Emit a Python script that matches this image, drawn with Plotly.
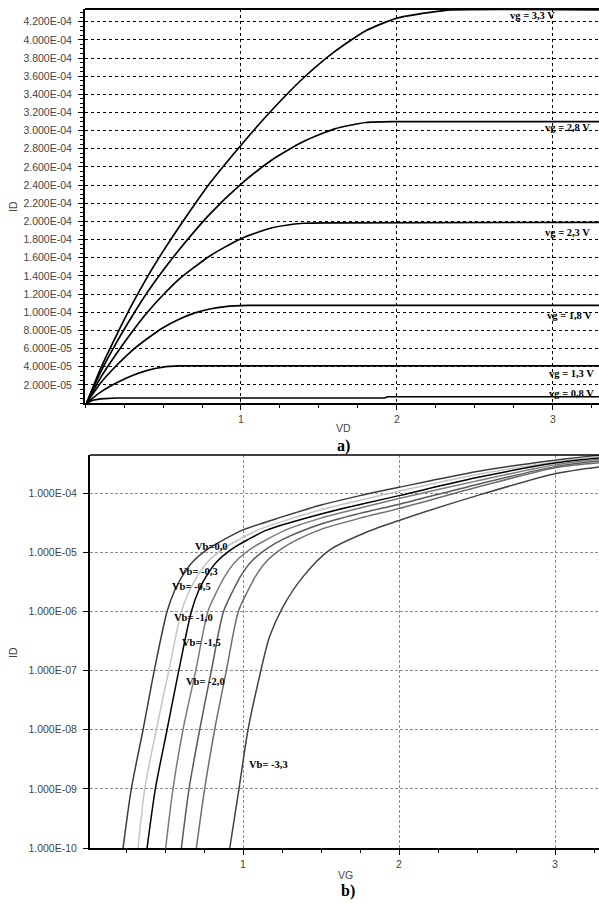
import plotly.graph_objects as go

# ---------------- panel a) : ID vs VD ----------------
vd_33 = [0.01, 0.1, 0.2, 0.3, 0.4, 0.5, 0.6, 0.8, 1.0, 1.2, 1.4, 1.6, 1.8, 2.0, 2.2, 2.35, 3.4]
id_33 = [0, 3.8e-5, 7.4e-5, 1.08e-4, 1.39e-4, 1.67e-4, 1.93e-4, 2.42e-4, 2.84e-4, 3.23e-4,
         3.58e-4, 3.87e-4, 4.10e-4, 4.24e-4, 4.30e-4, 4.33e-4, 4.33e-4]
vd_28 = [0.01, 0.1, 0.2, 0.3, 0.4, 0.5, 0.6, 0.8, 1.0, 1.2, 1.4, 1.6, 1.8, 2.0, 3.4]
id_28 = [0, 3.4e-5, 6.6e-5, 9.5e-5, 1.22e-4, 1.46e-4, 1.68e-4, 2.08e-4, 2.41e-4, 2.68e-4,
         2.88e-4, 3.02e-4, 3.09e-4, 3.10e-4, 3.10e-4]
vd_23 = [0.01, 0.1, 0.2, 0.3, 0.4, 0.5, 0.6, 0.8, 1.0, 1.2, 1.4, 1.6, 3.4]
id_23 = [0, 2.8e-5, 5.4e-5, 7.8e-5, 1.0e-4, 1.19e-4, 1.36e-4, 1.62e-4, 1.81e-4, 1.93e-4,
         1.98e-4, 1.985e-4, 1.99e-4]
vd_18 = [0.01, 0.1, 0.2, 0.3, 0.4, 0.5, 0.6, 0.7, 0.8, 0.9, 1.05, 3.4]
id_18 = [0, 2.2e-5, 4.1e-5, 5.75e-5, 7.1e-5, 8.3e-5, 9.2e-5, 9.9e-5, 1.035e-4, 1.062e-4,
         1.075e-4, 1.075e-4]
vd_13 = [0.01, 0.1, 0.2, 0.3, 0.4, 0.5, 0.6, 0.7, 3.4]
id_13 = [0, 1.2e-5, 2.2e-5, 3.0e-5, 3.6e-5, 3.95e-5, 4.08e-5, 4.1e-5, 4.1e-5]
vd_08 = [0.01, 0.05, 0.1, 0.15, 0.2, 1.92, 1.94, 3.4]
id_08 = [0, 3.0e-6, 4.6e-6, 5.3e-6, 5.5e-6, 5.5e-6, 6.9e-6, 6.9e-6]

vg_labels_a = ["vg = 3,3 V", "vg = 2,8 V", "vg = 2,3 V", "vg = 1,8 V", "vg = 1,3 V", "vg = 0,8 V"]

ya_tickvals = [2e-5 * k for k in range(1, 22)]
ya_ticktext = ["2.000E-05", "4.000E-05", "6.000E-05", "8.000E-05", "1.000E-04", "1.200E-04",
               "1.400E-04", "1.600E-04", "1.800E-04", "2.000E-04", "2.200E-04", "2.400E-04",
               "2.600E-04", "2.800E-04", "3.000E-04", "3.200E-04", "3.400E-04", "3.600E-04",
               "3.800E-04", "4.000E-04", "4.200E-04"]
x_tickvals = [1, 2, 3]
x_ticktext = ["1", "2", "3"]

# ---------------- panel b) : ID vs VG (log) ----------------
vg_b00 = [0.231, 0.284, 0.359, 0.431, 0.513, 0.561, 0.611, 0.681, 0.781, 0.881, 1.0, 1.25, 1.5, 1.75, 2.0, 2.5, 3.0, 3.3]
id_b00 = [1e-10, 1e-9, 1e-8, 1e-7, 1e-6, 2.24e-6, 3.98e-6, 7.08e-6, 1.17e-5, 1.66e-5, 2.40e-5,
          3.98e-5, 6.31e-5, 9.12e-5, 1.26e-4, 2.34e-4, 3.63e-4, 4.40e-4]
vg_b03 = [0.327, 0.370, 0.444, 0.524, 0.605, 0.657, 0.707, 0.777, 0.877, 0.977, 1.097, 1.25, 1.5, 1.75, 2.0, 2.5, 3.0, 3.3]
id_b03 = [1e-10, 1e-9, 1e-8, 1e-7, 1e-6, 2.24e-6, 3.98e-6, 7.08e-6, 1.17e-5, 1.66e-5, 2.40e-5,
          3.31e-5, 5.25e-5, 7.59e-5, 1.08e-4, 2.07e-4, 3.39e-4, 4.22e-4]
vg_b05 = [0.385, 0.438, 0.513, 0.588, 0.669, 0.715, 0.765, 0.835, 0.935, 1.035, 1.155, 1.5, 1.75, 2.0, 2.5, 3.0, 3.3]
id_b05 = [1e-10, 1e-9, 1e-8, 1e-7, 1e-6, 2.24e-6, 3.98e-6, 7.08e-6, 1.17e-5, 1.66e-5, 2.40e-5,
          4.47e-5, 6.46e-5, 9.12e-5, 1.84e-4, 3.24e-4, 3.98e-4]
vg_b10 = [0.504, 0.551, 0.615, 0.697, 0.775, 0.834, 0.884, 0.954, 1.054, 1.154, 1.274, 1.5, 1.75, 2.0, 2.5, 3.0, 3.3]
id_b10 = [1e-10, 1e-9, 1e-8, 1e-7, 1e-6, 2.24e-6, 3.98e-6, 7.08e-6, 1.17e-5, 1.66e-5, 2.40e-5,
          3.80e-5, 5.62e-5, 8.13e-5, 1.62e-4, 3.02e-4, 3.80e-4]
vg_b15 = [0.605, 0.654, 0.722, 0.797, 0.875, 0.935, 0.985, 1.055, 1.155, 1.255, 1.5, 1.75, 2.0, 2.5, 3.0, 3.3]
id_b15 = [1e-10, 1e-9, 1e-8, 1e-7, 1e-6, 2.24e-6, 3.98e-6, 7.08e-6, 1.17e-5, 1.66e-5, 3.02e-5,
          4.57e-5, 6.53e-5, 1.41e-4, 2.82e-4, 3.55e-4]
vg_b20 = [0.701, 0.754, 0.818, 0.893, 0.970, 1.031, 1.081, 1.151, 1.251, 1.351, 1.5, 1.75, 2.0, 2.5, 3.0, 3.3]
id_b20 = [1e-10, 1e-9, 1e-8, 1e-7, 1e-6, 2.24e-6, 3.98e-6, 7.08e-6, 1.17e-5, 1.66e-5, 2.45e-5,
          3.80e-5, 5.50e-5, 1.26e-4, 2.69e-4, 3.31e-4]
vg_b33 = [0.915, 0.974, 1.032, 1.096, 1.171, 1.256, 1.385, 1.556, 1.79, 2.0, 2.5, 3.0, 3.3]
id_b33 = [1e-10, 1e-9, 1e-8, 6.17e-8, 3.80e-7, 1.20e-6, 3.89e-6, 1.10e-5, 2.19e-5, 3.47e-5,
          9.12e-5, 2.14e-4, 2.82e-4]

vb_labels_b = ["Vb=0,0", "Vb= -0,3", "Vb= -0,5", "Vb= -1,0", "Vb= -1,5", "Vb= -2,0", "Vb= -3,3"]
vb_colors = ["#3c3c3c", "#c4c4c4", "#000000", "#7a7a7a", "#5a5a5a", "#6e6e6e", "#444444"]

yb_tickvals = [1e-10, 1e-9, 1e-8, 1e-7, 1e-6, 1e-5, 1e-4]
yb_ticktext = ["1.000E-10", "1.000E-09", "1.000E-08", "1.000E-07", "1.000E-06", "1.000E-05", "1.000E-04"]

W, H = 599, 903
TICKFONT = dict(family="Liberation Sans, Arial, sans-serif", size=10.5, color="#444444")
SERIF = "Liberation Serif, Times New Roman, serif"

fig = go.Figure()

curves_a = [(vd_33, id_33), (vd_28, id_28), (vd_23, id_23), (vd_18, id_18), (vd_13, id_13), (vd_08, id_08)]
for i, ((xs, ys), name) in enumerate(zip(curves_a, vg_labels_a)):
    shp = dict(shape="spline", smoothing=0.6) if i < 5 else dict(shape="linear")
    fig.add_trace(go.Scatter(x=xs, y=ys, mode="lines", name=name, xaxis="x", yaxis="y",
                             line=dict(color="#000000", width=1.7, **shp),
                             showlegend=False, hoverinfo="skip"))

curves_b = [(vg_b00, id_b00), (vg_b03, id_b03), (vg_b05, id_b05), (vg_b10, id_b10),
            (vg_b15, id_b15), (vg_b20, id_b20), (vg_b33, id_b33)]
for (xs, ys), name, col in zip(curves_b, vb_labels_b, vb_colors):
    fig.add_trace(go.Scatter(x=xs, y=ys, mode="lines", name=name, xaxis="x2", yaxis="y2",
                             line=dict(color=col, width=1.5, shape="spline", smoothing=0.8),
                             showlegend=False, hoverinfo="skip"))

common_x = dict(tickmode="array", tickvals=x_tickvals, ticktext=x_ticktext, ticks="outside",
                ticklen=5, tickcolor="#000", showline=True, linecolor="#000", linewidth=2,
                zeroline=False, tickfont=TICKFONT, showgrid=True, automargin=False,
                minor=dict(tickmode="linear", tick0=0, dtick=0.25, ticks="outside", ticklen=3,
                           tickcolor="#000", showgrid=False))

fig.update_layout(
    width=W, height=H, margin=dict(l=0, r=0, t=0, b=0),
    paper_bgcolor="white", plot_bgcolor="white",
    xaxis=dict(domain=[85 / W, 1], range=[0, 3.295], anchor="y",
               gridcolor="#000", griddash="3px,3px", gridwidth=1, **common_x),
    yaxis=dict(domain=[1 - 403 / H, 1 - 9 / H], range=[0, 4.34e-4], anchor="x",
               tickmode="array", tickvals=ya_tickvals, ticktext=ya_ticktext,
               ticks="outside", ticklen=5, tickcolor="#000", ticklabelstandoff=4,
               showline=True, linecolor="#000", linewidth=2, zeroline=False, automargin=False,
               showgrid=True, gridcolor="#000", griddash="3px,3px", gridwidth=1,
               tickfont=TICKFONT,
               minor=dict(tickmode="linear", tick0=0, dtick=5e-6, ticks="outside",
                          ticklen=3, tickcolor="#000", showgrid=False)),
    xaxis2=dict(domain=[90 / W, 1], range=[0.019, 3.282], anchor="y2",
                gridcolor="#8c8c8c", griddash="3px,2px", gridwidth=1, **common_x),
    yaxis2=dict(domain=[1 - 848 / H, 1 - 455 / H], type="log", range=[-10, -3.353], anchor="x2",
                tickmode="array", tickvals=yb_tickvals, ticktext=yb_ticktext,
                ticks="outside", ticklen=5, tickcolor="#000", ticklabelstandoff=4,
                showline=True, linecolor="#000", linewidth=2, zeroline=False, automargin=False,
                showgrid=True, gridcolor="#8c8c8c", griddash="3px,2px", gridwidth=1,
                tickfont=TICKFONT),
)

# top frame lines
fig.add_shape(type="line", xref="paper", yref="paper", x0=85 / W, x1=1, y0=1 - 9 / H, y1=1 - 9 / H,
              line=dict(color="#000", width=2))
fig.add_shape(type="line", xref="paper", yref="paper", x0=90 / W, x1=1, y0=1 - 455 / H, y1=1 - 455 / H,
              line=dict(color="#000", width=1.5))

# curve labels panel a)
lab_a_pos = [(2.71, 4.27e-4), (2.936, 3.03e-4), (2.936, 1.88e-4), (2.95, 9.69e-5), (2.96, 3.30e-5), (2.96, 1.10e-5)]
for txt, (lx, ly) in zip(vg_labels_a, lab_a_pos):
    fig.add_annotation(x=lx, y=ly, xref="x", yref="y", text="<b>" + txt + "</b>", showarrow=False,
                       xanchor="left", yanchor="middle",
                       font=dict(family=SERIF, size=10.5, color="#000"))

# curve labels panel b)
lab_b_pos = [(0.917, -4.907, "right"), (0.853, -5.329, "right"), (0.808, -5.583, "right"),
             (0.821, -6.106, "right"), (0.872, -6.529, "right"), (0.897, -7.188, "right"),
             (1.026, -8.59, "left")]
for txt, (lx, ly, anc) in zip(vb_labels_b, lab_b_pos):
    fig.add_annotation(x=lx, y=ly, xref="x2", yref="y2", text="<b>" + txt + "</b>", showarrow=False,
                       xanchor=anc, yanchor="middle",
                       font=dict(family=SERIF, size=10.5, color="#000"))

# axis titles and captions
def ann(px, py, text, font, angle=0):
    fig.add_annotation(x=px / W, y=1 - py / H, xref="paper", yref="paper", text=text,
                       showarrow=False, xanchor="center", yanchor="middle", textangle=angle, font=font)

ann(13, 207, "ID", TICKFONT, -90)
ann(13, 653, "ID", TICKFONT, -90)
ann(343, 428, "VD", TICKFONT)
ann(345, 875, "VG", TICKFONT)
ann(343, 446, "<b>a)</b>", dict(family=SERIF, size=16, color="#000"))
ann(348, 891, "<b>b)</b>", dict(family=SERIF, size=16, color="#000"))

fig.write_html("out.html", config={"displayModeBar": False, "staticPlot": True},
               post_script="document.body.style.margin='0px';document.body.style.padding='0px';"
                           "document.body.style.overflow='hidden';")
